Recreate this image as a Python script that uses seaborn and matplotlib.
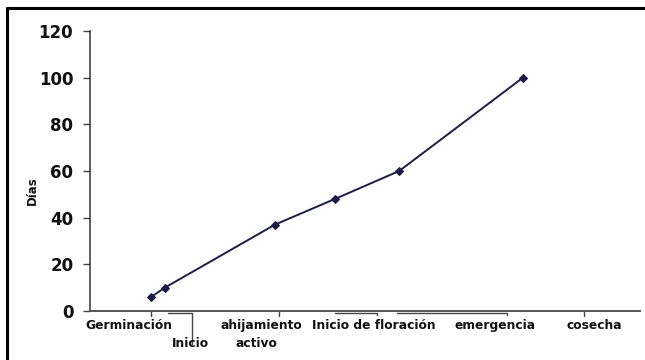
import matplotlib
matplotlib.use("Agg")
import matplotlib.pyplot as plt
import seaborn as sns
import pandas as pd
from matplotlib.lines import Line2D

# Data
stage_x = [11.1, 13.6, 33.6, 44.5, 56.2, 78.7]
dias = [6, 10, 37, 48, 60, 100]

# Stage labels on the x axis (row 1 = second line below the axis)
label_text = ["Germinación", "Inicio", "ahijamiento", "activo",
              "Inicio de floración", "emergencia", "cosecha"]
label_x = [7.1, 18.2, 31.2, 30.2, 51.6, 73.6, 91.6]
label_row = [0, 1, 0, 1, 0, 0, 0]

# simple ticks and bracket spans below the axis
tick_x = [11.1, 34.4, 89.8]
bracket_start = [14.2, 44.5, 55.8]
bracket_end = [18.5, 52.2, 75.8]
bracket_drop = [-14.0, -1.8, -1.8]

y_ticks = [0, 20, 40, 60, 80, 100, 120]

sns.set_style("white")
plt.rcParams["font.family"] = ["DejaVu Sans"]

df = pd.DataFrame({"x": stage_x, "dias": dias})

fig = plt.figure(figsize=(6.45, 3.6), dpi=100)
ax = fig.add_axes([0.1395, 0.136, 0.853, 0.778])

line_col = "#1c1c48"
sns.lineplot(data=df, x="x", y="dias", ax=ax, color=line_col, lw=1.4,
             marker="D", markersize=4, markeredgecolor=line_col)

ax.set_xlim(0, 100)
ax.set_ylim(0, 120)
ax.set_yticks(y_ticks)
ax.set_yticklabels([str(v) for v in y_ticks], fontsize=12,
                   fontweight="bold", color="#111111")
ax.set_xticks([])
ax.set_xlabel("")
ax.set_ylabel("Días", fontsize=8.5, fontweight="bold", color="#111111")
ax.yaxis.set_label_coords(-0.093, 0.43)
ax.tick_params(axis="y", direction="out", length=5, width=1,
               color="#444444", pad=7, left=True)

for side in ["top", "right"]:
    ax.spines[side].set_visible(False)
ax.spines["left"].set_color("#333333")
ax.spines["bottom"].set_color("#555555")
ax.spines["left"].set_linewidth(1.1)
ax.spines["bottom"].set_linewidth(1.4)

axis_gray = "#444444"
for tx in tick_x:
    ax.plot([tx, tx], [0, -2.2], color=axis_gray, lw=1, clip_on=False)
for x0, x1, d in zip(bracket_start, bracket_end, bracket_drop):
    ax.plot([x0, x1, x1], [-0.8, -0.8, d], color=axis_gray, lw=1,
            clip_on=False)

for txt, lx, row in zip(label_text, label_x, label_row):
    ax.text(lx, -6.0 - row * 7.7, txt, ha="center", va="center",
            fontsize=8.8, fontweight="bold", clip_on=False,
            color="#111111")

# outer frame (left and top edges visible)
fig.add_artist(Line2D([7 / 645, 7 / 645], [0, 1 - 8 / 360],
                      transform=fig.transFigure, color="black", lw=2.2))
fig.add_artist(Line2D([7 / 645, 1], [1 - 8 / 360, 1 - 8 / 360],
                      transform=fig.transFigure, color="black", lw=2.2))

fig.savefig("out.png", dpi=100)
